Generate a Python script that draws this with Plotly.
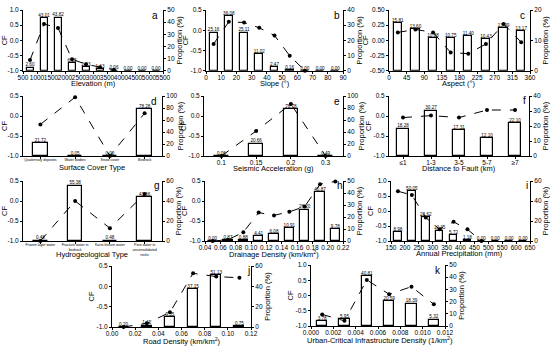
import plotly.graph_objects as go

# ---------------- data ----------------
a_x = [750, 1250, 1750, 2250, 2750, 3250, 3750, 4250, 4750, 5250]
a_prop = [2.60, 43.01, 43.82, 6.15, 2.93, 1.43, 0.06, 0.00, 0.00, 0.00]
a_cf = [-0.65, 0.54, 0.41, -0.62, -0.79, -0.89, -0.97, None, None, None]

b_x = [5, 15, 25, 35, 45, 55, 65, 75, 85]
b_prop = [25.16, 36.08, 25.11, 11.02, 2.47, 0.16, 0.00, 0.00, 0.00]
b_cf = [-0.34, 0.21, 0.19, 0.06, -0.13, -0.63, -1.0, None, None]

c_x = [22.5, 67.5, 112.5, 157.5, 202.5, 247.5, 292.5, 337.5]
c_prop = [15.81, 13.60, 10.88, 10.75, 11.40, 10.43, 13.99, 13.17]
c_cf = [0.13, 0.18, 0.13, -0.20, -0.22, -0.06, 0.27, -0.03]

d_cat = ["Quaternary deposits", "Water bodies", "Snow cover", "Bedrock"]
d_prop = [21.72, 0.05, 0.00, 78.28]
d_cf = [-0.21, 0.47, -1.0, 0.07]

e_cat = ["0.1", "0.15", "0.2", "0.3"]
e_prop = [0.06, 20.66, 78.78, 0.49]
e_cf = [-1.0, -0.375, 0.30, -1.0]

f_cat = ["≤1", "1-3", "3-5", "5-7", "≥7"]
f_prop = [18.28, 30.27, 17.31, 12.10, 22.10]
f_cf = [-0.04, 0.01, -0.04, 0.15, 0.15]

g_cat = ["Frozen layer water", "Fracture water in<br>bedrock", "Karst-fissure water",
         "Pore water in<br>unconsolidated<br>rocks"]
g_prop = [0.48, 55.38, 0.48, 43.66]
g_cf = [-1.0, 0.0, -0.68, 0.175]

h_x = [0.05, 0.07, 0.09, 0.11, 0.13, 0.15, 0.17, 0.19, 0.21]
h_prop = [0.00, 0.87, 0.88, 4.41, 6.08, 10.91, 26.20, 40.87, 9.78]
h_cf = [-1.0, -0.97, -0.78, -0.29, -0.36, -0.27, -0.14, 0.42, 0.49]

i_x = [175, 225, 275, 325, 375, 425, 475, 525, 575, 625]
i_prop = [8.98, 50.05, 23.62, 10.45, 5.72, 1.18, 0.00, 0.00, 0.00, 0.00]
i_cf = [0.66, 0.53, -0.22, -0.61, -0.36, -0.61, -1.0, None, None, None]

j_x = [0.01, 0.03, 0.05, 0.07, 0.09, 0.11]
j_prop = [0.20, 1.42, 9.35, 37.15, 51.13, 0.75]
j_cf = [-1.0, -0.91, -0.64, 0.32, 0.24, 0.21]

k_x = [0.001, 0.003, 0.005, 0.007, 0.009, 0.011]
k_prop = [3.78, 5.95, 40.81, 20.59, 18.39, 5.32]
k_cf = [-0.62, -0.83, 0.51, 0.04, 0.29, -0.29]

W, H = 550, 348
FONT = "Liberation Sans, Arial, sans-serif"


def num_ticks(lo, hi, step, fmt):
    vals, labs = [], []
    n = int(round((hi - lo) / step))
    for k in range(n + 1):
        v = lo + k * step
        vals.append(v)
        labs.append(format(v, fmt).replace("−", "-"))
    return vals, labs


panels = [
    dict(L="a", x=a_x, p=a_prop, cf=a_cf, xt="Elevation (m)", xr=[500, 5500], xs=500, xf=".0f",
         pr=50, ps=10, cr=[-1, 1], cs=0.5, cf_f=".1f", box=(23, 163, 10, 70.7), bw=250, lp=(155, 15),
         tp=(93, 83)),
    dict(L="b", x=b_x, p=b_prop, cf=b_cf, xt="Slope (°)", xr=[0, 90], xs=10, xf=".0f",
         pr=40, ps=10, cr=[-1, 0.5], cs=0.5, cf_f=".1f", box=(206, 343, 10, 70.7), bw=5.2, lp=(337, 15),
         tp=(275, 83)),
    dict(L="c", x=c_x, p=c_prop, cf=c_cf, xt="Aspect (°)", xr=[0, 360], xs=45, xf=".0f",
         pr=20, ps=10, cr=[-0.5, 0.5], cs=0.25, cf_f=".2f", box=(389, 530, 10, 70.7), bw=21, lp=(522, 15),
         tp=(459, 83)),
    dict(L="d", x=d_cat, p=d_prop, cf=d_cf, xt="Surface Cover Type", cat=True, cfs=3.6,
         pr=100, ps=20, cr=[-1, 0.5], cs=0.5, cf_f=".1f", box=(23, 162, 96, 156), bw=0.42, lp=(154, 101),
         tp=(92, 167.5)),
    dict(L="e", x=e_cat, p=e_prop, cf=e_cf, xt="Seismic Acceleration (g)", cat=True, cfs=6.5,
         pr=100, ps=20, cr=[-1, 0.5], cs=0.5, cf_f=".1f", box=(204, 343, 96, 156), bw=0.42, lp=(337, 101),
         tp=(273, 168)),
    dict(L="f", x=f_cat, p=f_prop, cf=f_cf, xt="Distance to Fault (km)", cat=True, cfs=6.5,
         pr=40, ps=10, cr=[-1, 0.5], cs=0.5, cf_f=".1f", box=(389, 529, 96, 156), bw=0.42, lp=(524, 100),
         tp=(459, 168)),
    dict(L="g", x=g_cat, p=g_prop, cf=g_cf, xt="Hydrogeological Type", cat=True, cfs=3.6,
         pr=60, ps=20, cr=[-1, 0.5], cs=0.5, cf_f=".1f", box=(23, 162, 181, 241), bw=0.42, lp=(157, 185),
         tp=(92, 254)),
    dict(L="h", x=h_x, p=h_prop, cf=h_cf, xt="Drainage Density (km/km<sup>2</sup>)", xr=[0.04, 0.22], xs=0.02,
         xf=".2f", pr=50, ps=10, cr=[-1, 0.5], cs=0.5, cf_f=".1f", box=(205, 343, 181, 241), bw=0.012,
         lp=(340, 185), tp=(274, 253.5)),
    dict(L="i", x=i_x, p=i_prop, cf=i_cf, xt="Annual Precipitation (mm)", xr=[150, 650], xs=50, xf=".0f",
         pr=60, ps=20, cr=[-1, 1], cs=0.5, cf_f=".1f", box=(391, 530, 181, 241), bw=27, lp=(527, 185),
         tp=(460, 253)),
    dict(L="j", x=j_x, p=j_prop, cf=j_cf, xt="Road Density (km/km<sup>2</sup>)", xr=[0, 0.12], xs=0.02, xf=".2f",
         pr=60, ps=20, cr=[-1, 0.5], cs=0.5, cf_f=".1f", box=(112, 251, 266, 327), bw=0.0085, lp=(249, 270),
         tp=(182, 340.5)),
    dict(L="k", x=k_x, p=k_prop, cf=k_cf, xt="Urban-Critical Infrastructure Density (1/km<sup>2</sup>)",
         xr=[0, 0.012], xs=0.002, xf=".3f",
         pr=50, ps=10, cr=[-1, 1], cs=0.5, cf_f=".1f", box=(311, 445, 265, 326), bw=0.0009, lp=(438, 270),
         tp=(380, 340)),
]

fig = go.Figure()
layout = {}

axis_common = dict(showline=True, linecolor="black", linewidth=1, ticks="outside", ticklen=2,
                   tickwidth=1, tickcolor="black", showgrid=False, zeroline=False, automargin=False,
                   tickfont=dict(size=6.5, color="black", family=FONT))

for idx, P in enumerate(panels):
    xn = idx + 1
    yb = 2 * idx + 1
    yo = 2 * idx + 2
    xkey = "xaxis" if xn == 1 else f"xaxis{xn}"
    ybkey = "yaxis" if yb == 1 else f"yaxis{yb}"
    yokey = f"yaxis{yo}"
    xref = "x" if xn == 1 else f"x{xn}"
    ybref = "y" if yb == 1 else f"y{yb}"
    yoref = f"y{yo}"
    x0, x1, y0, y1 = P["box"]
    xdom = [x0 / W, x1 / W]
    ydom = [1 - y1 / H, 1 - y0 / H]

    # bars (proportion, base axis on right side)
    fig.add_trace(go.Bar(x=P["x"], y=P["p"], width=P["bw"], xaxis=xref, yaxis=ybref,
                         marker=dict(color="white", line=dict(color="black", width=1.2)),
                         showlegend=False, hoverinfo="skip"))
    # bar labels
    fig.add_trace(go.Scatter(x=P["x"], y=P["p"], mode="text", text=[f"{v:.2f}" for v in P["p"]],
                             textposition="top center", xaxis=xref, yaxis=ybref, cliponaxis=False,
                             textfont=dict(size=4.6, color="black", family=FONT),
                             showlegend=False, hoverinfo="skip"))
    # CF line
    fig.add_trace(go.Scatter(x=P["x"], y=P["cf"], mode="lines+markers", xaxis=xref, yaxis=yoref,
                             line=dict(color="black", width=1, dash="dash"),
                             marker=dict(color="black", size=4), connectgaps=False, cliponaxis=False,
                             showlegend=False, hoverinfo="skip"))

    xa = dict(axis_common, domain=xdom, anchor=ybref, tickangle=0, ticklabelstandoff=-2)
    if P.get("cat"):
        xa.update(type="category", range=[-0.5, len(P["x"]) - 0.5], categoryorder="array",
                  categoryarray=P["x"], tickfont=dict(size=P["cfs"], color="black", family=FONT))
    else:
        tv, tt = num_ticks(P["xr"][0], P["xr"][1], P["xs"], P["xf"])
        xa.update(range=P["xr"], tickvals=tv, ticktext=tt)
    layout[xkey] = xa

    pv, pt = num_ticks(0, P["pr"], P["ps"], ".0f")
    layout[ybkey] = dict(axis_common, domain=ydom, anchor=xref, side="right", range=[0, P["pr"]],
                         tickvals=pv, ticktext=pt,
                         title=dict(text="Proportion (%)", font=dict(size=7.5, color="black", family=FONT),
                                    standoff=1))
    cv, ct = num_ticks(P["cr"][0], P["cr"][1], P["cs"], P["cf_f"])
    layout[yokey] = dict(axis_common, anchor=xref, overlaying=ybref, side="left", range=P["cr"],
                         tickvals=cv, ticktext=ct,
                         title=dict(text="CF", font=dict(size=7.5, color="black", family=FONT), standoff=0))

    # x-axis title
    tx, ty = P["tp"]
    fig.add_annotation(x=tx / W, y=1 - ty / H, xref="paper", yref="paper", text=P["xt"], showarrow=False,
                       font=dict(size=7.5, color="black", family=FONT), xanchor="center", yanchor="middle")
    # panel letter
    lx, ly = P["lp"]
    fig.add_annotation(x=lx / W, y=1 - ly / H, xref="paper", yref="paper", text=P["L"], showarrow=False,
                       font=dict(size=10, color="black", family=FONT), xanchor="center", yanchor="middle")

fig.update_layout(width=W, height=H, margin=dict(l=0, r=0, t=0, b=0), plot_bgcolor="white",
                  paper_bgcolor="white", font=dict(family=FONT, color="black"), bargap=0, **layout)

fig.write_html("out.html", config={"displayModeBar": False},
               post_script="document.body.style.margin='0';document.body.style.overflow='hidden';")
